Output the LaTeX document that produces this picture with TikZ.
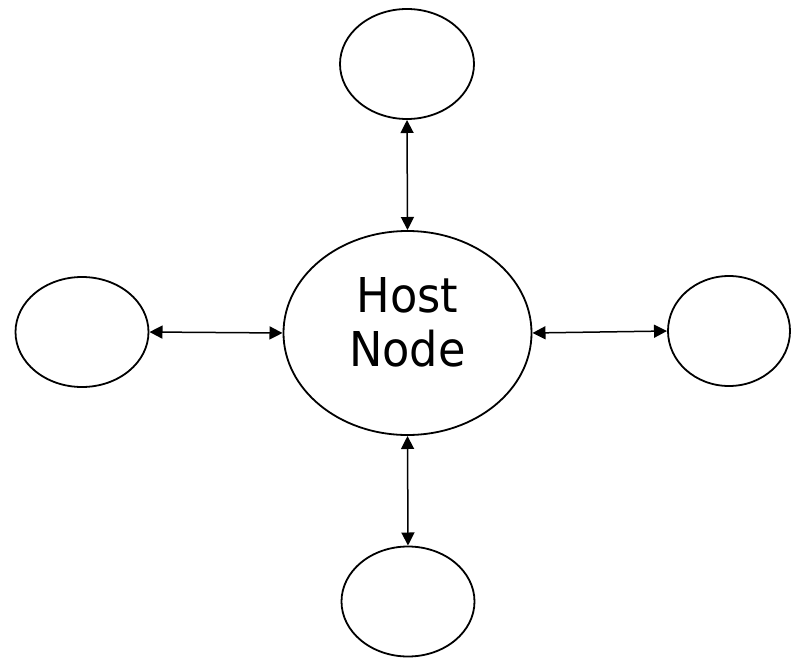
\documentclass[tikz,border=0pt]{standalone}
\usepackage{fontspec}
\setmainfont{DejaVu Sans}[FakeStretch=0.93]
\usetikzlibrary{shapes.geometric,arrows.meta}
\tikzset{
  nodeell/.style={draw, ellipse, line width=1.8pt, inner sep=0pt, outer sep=0pt},
  hosttext/.style={align=center, inner sep=0pt, font=\fontsize{48pt}{54pt}\selectfont},
  link/.style={line width=1.5pt, {Triangle[length=13pt,width=13pt]}-{Triangle[length=13pt,width=13pt]}, shorten <=1pt, shorten >=1pt}
}
\begin{document}
\begin{tikzpicture}[x=1pt,y=-1pt]
\useasboundingbox (0,0) rectangle (792,658);
\node[nodeell, minimum width=248pt, minimum height=204pt] (host) at (407.5,333) {};
\node[hosttext] (hostlabel) at (407.5,322) {Host\\Node};
\node[nodeell, minimum width=134pt, minimum height=110pt] (top) at (407,64) {};
\node[nodeell, minimum width=133pt, minimum height=110pt] (left) at (82,332) {};
\node[nodeell, minimum width=122pt, minimum height=110pt] (right) at (729,331) {};
\node[nodeell, minimum width=133pt, minimum height=110pt] (bottom) at (408,601.5) {};
\draw[link] (top.south) -- (host.north);
\draw[link] (left.east) -- (host.west);
\draw[link] (host.east) -- (right.west);
\draw[link] (host.south) -- (bottom.north);
\end{tikzpicture}
\end{document}
